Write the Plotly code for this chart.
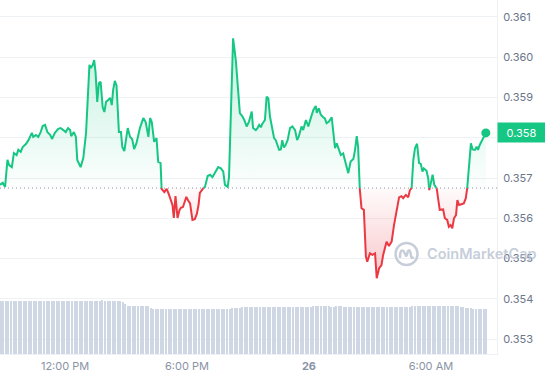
import numpy as np
import pandas as pd
import plotly.graph_objects as go

# ---------------- data ----------------
START = pd.Timestamp("2024-05-25 08:48")
BASELINE = 0.35675          # price 24h ago (dotted reference line)

minutes = [
    0, 8, 15, 22, 27, 35, 41, 49, 54, 61, 67, 77, 84, 94, 98, 106, 113, 120, 126, 133,
    140, 148, 154, 162, 172, 179, 187, 194, 201, 207, 210, 218, 224, 228, 238, 246, 254, 261, 264, 268,
    274, 278, 282, 287, 292, 297, 303, 308, 313, 320, 325, 330, 334, 339, 344, 351, 357, 361, 367, 377,
    384, 390, 396, 403, 413, 423, 430, 438, 443, 448, 455, 462, 467, 474, 477, 485, 492, 499, 505, 509,
    513, 518, 524, 530, 534, 540, 546, 550, 555, 561, 568, 575, 581, 586, 590, 597, 605, 613, 620, 627,
    634, 644, 652, 659, 664, 672, 676, 682, 688, 696, 703, 708, 715, 721, 728, 735, 743, 747, 755, 760,
    765, 770, 774, 782, 787, 792, 797, 802, 809, 814, 820, 824, 829, 833, 838, 843, 849, 856, 863, 871,
    877, 882, 890, 895, 903, 910, 917, 925, 932, 935, 941, 947, 954, 959, 964, 971, 979, 984, 989, 994,
    1000, 1006, 1013, 1018, 1028, 1035, 1043, 1048, 1053, 1057, 1062, 1067, 1074, 1080, 1084, 1092, 1099, 1107, 1112, 1119,
    1126, 1131, 1136, 1141, 1148, 1156, 1163, 1171, 1178, 1185, 1190, 1198, 1205, 1210, 1215, 1220, 1225, 1231, 1237, 1242,
    1247, 1251, 1259, 1264, 1267, 1272, 1277, 1282, 1289, 1293, 1298, 1308, 1313, 1320, 1325, 1330, 1335, 1340, 1346, 1350,
    1355, 1362, 1369, 1375, 1379, 1385, 1390, 1395, 1402, 1407, 1411, 1416, 1422, 1428, 1434,
]

prices = [
    0.35683, 0.35688, 0.35678, 0.35745, 0.35732, 0.35727, 0.35762, 0.35757, 0.35770, 0.35765,
    0.35777, 0.35785, 0.35794, 0.35812, 0.35802, 0.35807, 0.35802, 0.35814, 0.35829, 0.35832,
    0.35814, 0.35807, 0.35797, 0.35812, 0.35822, 0.35824, 0.35819, 0.35814, 0.35824, 0.35819,
    0.35804, 0.35814, 0.35802, 0.35745, 0.35727, 0.35750, 0.35812, 0.35944, 0.35981, 0.35973,
    0.35981, 0.35993, 0.35963, 0.35889, 0.35936, 0.35939, 0.35876, 0.35864, 0.35889, 0.35894,
    0.35899, 0.35881, 0.35919, 0.35941, 0.35929, 0.35814, 0.35814, 0.35777, 0.35767, 0.35824,
    0.35802, 0.35797, 0.35772, 0.35787, 0.35824, 0.35849, 0.35839, 0.35802, 0.35849, 0.35839,
    0.35790, 0.35799, 0.35740, 0.35737, 0.35673, 0.35665, 0.35673, 0.35658, 0.35645, 0.35633,
    0.35601, 0.35655, 0.35601, 0.35621, 0.35626, 0.35628, 0.35643, 0.35653, 0.35645, 0.35637,
    0.35596, 0.35598, 0.35611, 0.35633, 0.35663, 0.35673, 0.35678, 0.35705, 0.35708, 0.35702,
    0.35712, 0.35727, 0.35724, 0.35716, 0.35683, 0.35678, 0.35703, 0.35902, 0.36047, 0.35993,
    0.35910, 0.35861, 0.35854, 0.35844, 0.35828, 0.35840, 0.35865, 0.35824, 0.35819, 0.35824,
    0.35832, 0.35826, 0.35834, 0.35844, 0.35902, 0.35898, 0.35852, 0.35828, 0.35799, 0.35794,
    0.35778, 0.35770, 0.35771, 0.35794, 0.35776, 0.35782, 0.35794, 0.35824, 0.35828, 0.35819,
    0.35794, 0.35803, 0.35828, 0.35819, 0.35844, 0.35828, 0.35848, 0.35869, 0.35879, 0.35862,
    0.35873, 0.35857, 0.35851, 0.35848, 0.35836, 0.35840, 0.35851, 0.35819, 0.35774, 0.35786,
    0.35770, 0.35757, 0.35761, 0.35742, 0.35712, 0.35741, 0.35747, 0.35770, 0.35804, 0.35778,
    0.35673, 0.35625, 0.35621, 0.35505, 0.35492, 0.35513, 0.35509, 0.35513, 0.35451, 0.35476,
    0.35484, 0.35509, 0.35529, 0.35542, 0.35531, 0.35542, 0.35583, 0.35621, 0.35652, 0.35655,
    0.35650, 0.35658, 0.35652, 0.35670, 0.35675, 0.35745, 0.35774, 0.35785, 0.35737, 0.35735,
    0.35716, 0.35724, 0.35718, 0.35699, 0.35670, 0.35687, 0.35708, 0.35683, 0.35674, 0.35650,
    0.35621, 0.35622, 0.35600, 0.35596, 0.35579, 0.35583, 0.35575, 0.35600, 0.35608, 0.35645,
    0.35633, 0.35635, 0.35637, 0.35650, 0.35674, 0.35749, 0.35786, 0.35771, 0.35770, 0.35778,
    0.35770, 0.35782, 0.35792, 0.35802, 0.35812,
]

# 24h rolling volume (millions USD), one bar every 7.5 minutes
volume_step_min = 7.5
volumes = [
    212, 212, 211, 212, 212, 213, 212, 212, 211, 212, 212, 212, 213, 212, 212, 211, 212, 212, 212, 212,
    211, 212, 212, 212, 213, 212, 212, 212, 211, 212, 212, 212, 212, 213, 212, 212, 212, 212, 214, 214,
    215, 214, 214, 213, 212, 212, 212, 211, 207, 200, 194, 192, 192, 191, 192, 192, 192, 191, 192, 186,
    181, 180, 180, 180, 180, 180, 180, 180, 180, 180, 180, 180, 180, 180, 180, 180, 180, 180, 180, 180,
    181, 181, 181, 181, 181, 181, 181, 181, 182, 182, 182, 184, 185, 185, 185, 188, 188, 188, 188, 188,
    189, 189, 189, 189, 188, 188, 189, 189, 189, 189, 189, 189, 189, 189, 188, 188, 189, 189, 189, 189,
    189, 189, 189, 192, 193, 193, 192, 193, 193, 192, 189, 189, 192, 192, 191, 189, 189, 189, 189, 188,
    189, 189, 189, 189, 189, 189, 189, 189, 189, 189, 189, 189, 189, 190, 190, 190, 189, 189, 189, 189,
    189, 189, 192, 193, 193, 193, 193, 193, 193, 193, 193, 193, 193, 193, 193, 193, 193, 193, 193, 192,
    192, 188, 187, 186, 185, 185, 181, 180, 180, 180, 180, 180,
]

y_ticks = [0.353, 0.354, 0.355, 0.356, 0.357, 0.358, 0.359, 0.360, 0.361]
x_tick_minutes = [192, 552, 912, 1272]
x_tick_text = ["12:00 PM", "6:00 PM", "<b>26</b>", "6:00 AM"]

# ---------------- styling ----------------
GREEN = "#16c784"
RED = "#ea3943"
VOL = "#cfd6e4"
GRID = "#eff2f5"
FONT = "Inter"

t = np.array(minutes, float)
p = np.array(prices, float)
assert len(t) == len(p)

# insert baseline crossings so green/red segments meet exactly
xs, ys = [t[0]], [p[0]]
for i in range(1, len(p)):
    a, b = p[i - 1] - BASELINE, p[i] - BASELINE
    if a * b < 0:
        f = a / (a - b)
        xs.append(t[i - 1] + f * (t[i] - t[i - 1]))
        ys.append(BASELINE)
    xs.append(t[i])
    ys.append(p[i])
xs = np.array(xs)
ys = np.array(ys)
xd = START + pd.to_timedelta(xs, unit="m")

upper = np.maximum(ys, BASELINE)
lower = np.minimum(ys, BASELINE)
green_line = np.where(ys >= BASELINE, ys, np.nan)
red_line = np.where(ys <= BASELINE, ys, np.nan)
base_arr = np.full_like(ys, BASELINE)

vol_t = START + pd.to_timedelta(np.arange(len(volumes)) * volume_step_min + 3, unit="m")

fig = go.Figure()

# volume bars on a secondary axis
fig.add_trace(go.Bar(x=vol_t, y=volumes, yaxis="y2", marker=dict(color=VOL, line_width=0),
                     width=volume_step_min * 60 * 1000 * 0.55, hoverinfo="skip", showlegend=False))

# fills
fig.add_trace(go.Scatter(x=xd, y=base_arr, mode="lines", line=dict(width=0), hoverinfo="skip", showlegend=False))
fig.add_trace(go.Scatter(x=xd, y=upper, mode="lines", line=dict(width=0), fill="tonexty",
                         fillgradient=dict(type="vertical",
                                           colorscale=[[0, "rgba(22,199,132,0.01)"], [1, "rgba(22,199,132,0.26)"]]),
                         hoverinfo="skip", showlegend=False))
fig.add_trace(go.Scatter(x=xd, y=base_arr, mode="lines", line=dict(width=0), hoverinfo="skip", showlegend=False))
fig.add_trace(go.Scatter(x=xd, y=lower, mode="lines", line=dict(width=0), fill="tonexty",
                         fillgradient=dict(type="vertical",
                                           colorscale=[[0, "rgba(234,57,67,0.28)"], [1, "rgba(234,57,67,0.02)"]]),
                         hoverinfo="skip", showlegend=False))

# price line
fig.add_trace(go.Scatter(x=xd, y=green_line, mode="lines", line=dict(color=GREEN, width=2), connectgaps=False,
                         hoverinfo="skip", showlegend=False))
fig.add_trace(go.Scatter(x=xd, y=red_line, mode="lines", line=dict(color=RED, width=2), connectgaps=False,
                         hoverinfo="skip", showlegend=False))
# last price dot
fig.add_trace(go.Scatter(x=[xd[-1]], y=[ys[-1]], mode="markers", marker=dict(color=GREEN, size=9),
                         hoverinfo="skip", showlegend=False))

# dotted baseline
fig.add_shape(type="line", xref="paper", yref="y", x0=0, x1=1, y0=BASELINE, y1=BASELINE,
              line=dict(color="#8a93a5", width=1, dash="1px,3px"))

# current price label box
fig.add_annotation(xref="paper", yref="y", x=1, y=prices[-1], xanchor="left", yanchor="middle",
                   text=f"{prices[-1]:.3f}", showarrow=False, bgcolor=GREEN,
                   font=dict(color="white", size=11, family=FONT), width=45, height=17, borderpad=1,
                   align="center")

# watermark
WM = "rgba(180,190,206,0.75)"
cx, cy = 0.818, 0.2825
fig.add_shape(type="circle", xref="paper", yref="paper", xsizemode="pixel", ysizemode="pixel",
              xanchor=cx, yanchor=cy, x0=-11, x1=11, y0=-11, y1=11, line=dict(color=WM, width=2.5))
fig.add_shape(type="path", xref="paper", yref="paper", xsizemode="pixel", ysizemode="pixel",
              xanchor=cx, yanchor=cy,
              path="M -6.5,-4 L -6.5,-1 Q -6,5 -3,3 L -1,-1 Q 0,-3 0.5,0 L 1.5,3 Q 3,5 4,1 L 4.5,-2 Q 5,-5 7,-3",
              line=dict(color=WM, width=2.5))
fig.add_annotation(xref="paper", yref="paper", x=cx, y=cy, xshift=18, xanchor="left", yanchor="middle",
                   text="CoinMarketCap", showarrow=False,
                   font=dict(color=WM, size=14.5, family=FONT, weight=600))

total_min = 1467
fig.update_layout(
    width=545, height=380,
    margin=dict(l=0, r=48, t=0, b=26),
    paper_bgcolor="white", plot_bgcolor="white",
    bargap=0,
    xaxis=dict(
        type="date",
        range=[START, START + pd.Timedelta(minutes=total_min)],
        tickvals=[START + pd.Timedelta(minutes=m) for m in x_tick_minutes],
        ticktext=x_tick_text,
        showgrid=False, zeroline=False,
        showline=True, linecolor=GRID, linewidth=1,
        ticks="outside", ticklen=2, tickcolor="rgba(0,0,0,0)",
        tickfont=dict(family=FONT, size=11, color="#8a93a5"),
        fixedrange=True, automargin=False,
    ),
    yaxis=dict(
        side="right",
        range=[0.35263, 0.36142],
        tickvals=y_ticks,
        tickformat=".3f",
        showgrid=True, gridcolor=GRID, gridwidth=1,
        zeroline=False,
        showline=True, linecolor=GRID, linewidth=1,
        ticks="outside", ticklen=3, tickcolor="rgba(0,0,0,0)",
        tickfont=dict(family=FONT, size=11, color="#6b7689"),
        fixedrange=True, automargin=False,
    ),
    yaxis2=dict(
        overlaying="y", side="left", range=[0, 1416], visible=False, fixedrange=True,
    ),
    showlegend=False,
)

fig.write_html("out.html", config={"displayModeBar": False},
               post_script="document.body.style.margin='0';document.body.style.overflow='hidden';")
